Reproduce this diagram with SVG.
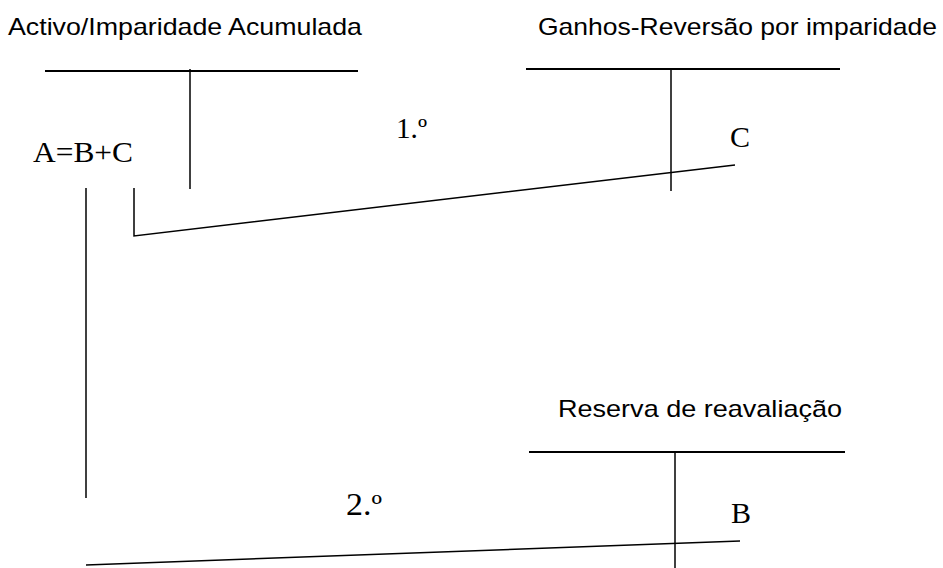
<svg xmlns="http://www.w3.org/2000/svg" width="943" height="568" viewBox="0 0 943 568">
<style>
.t{font-family:"Liberation Sans",Arial,sans-serif;font-size:24px;fill:#000}
.s{font-family:"Liberation Serif","Times New Roman",serif;font-size:29px;fill:#000}
.l{stroke:#000;stroke-width:2;fill:none}
.c{stroke:#000;stroke-width:1.5;fill:none}
</style>
<rect width="943" height="568" fill="#fff"/>
<g id="activo">
<text class="t" x="8" y="35" textLength="354" lengthAdjust="spacingAndGlyphs">Activo/Imparidade Acumulada</text>
<line class="l" x1="45" y1="71" x2="358" y2="71"/>
<line class="c" x1="190" y1="69" x2="190" y2="189"/>
<text class="s" x="33" y="162" textLength="100" lengthAdjust="spacingAndGlyphs">A=B+C</text>
</g>
<g id="ganhos">
<text class="t" x="538" y="35" textLength="399" lengthAdjust="spacingAndGlyphs">Ganhos-Reversão por imparidade</text>
<line class="l" x1="526" y1="69" x2="840" y2="69"/>
<line class="c" x1="671" y1="70" x2="671" y2="191"/>
<text class="s" x="730" y="147" style="font-size:30px">C</text>
</g>
<g id="reserva">
<text class="t" x="558" y="417" textLength="284" lengthAdjust="spacingAndGlyphs">Reserva de reavaliação</text>
<line class="l" x1="529" y1="452" x2="845" y2="452"/>
<line class="c" x1="675" y1="453" x2="675" y2="568"/>
<text class="s" x="731" y="523" style="font-size:30px">B</text>
</g>
<g id="connectors">
<polyline class="c" points="134,188 134,236 735,165"/>
<line class="c" x1="86" y1="188" x2="86" y2="498"/>
<line class="c" x1="86" y1="565" x2="740" y2="541"/>
<text class="s" x="396" y="138" textLength="31" lengthAdjust="spacingAndGlyphs">1.º</text>
<text class="s" x="346" y="515" style="font-size:31px" textLength="36" lengthAdjust="spacingAndGlyphs">2.º</text>
</g>
</svg>
